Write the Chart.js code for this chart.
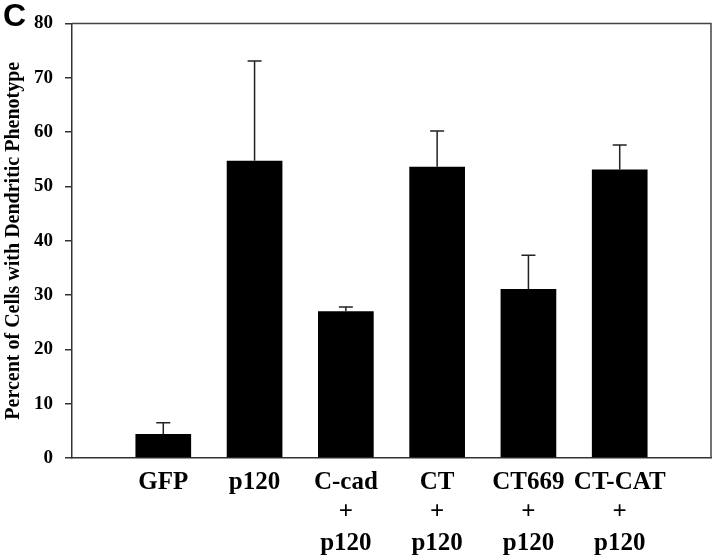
<!DOCTYPE html>
<html>
<head>
<meta charset="utf-8">
<script src="https://cdn.jsdelivr.net/npm/chart.js@4/dist/chart.umd.min.js"></script>
<style>
  html, body { margin: 0; padding: 0; background: #fff; }
  #wrap { position: relative; width: 720px; height: 558px; }
  #panel { position: absolute; left: 3px; top: -3px; font: bold 32px "Liberation Sans", Arial, sans-serif; }
</style>
</head>
<body>
<div id="wrap">
  <canvas id="chart" width="720" height="558"></canvas>
  <div id="panel">C</div>
</div>
<script>
// groups (first and last slot are left empty, like the original axis)
const groups = ['', 'GFP', 'p120', ['C-cad', '+', 'p120'], ['CT', '+', 'p120'], ['CT669', '+', 'p120'], ['CT-CAT', '+', 'p120'], ''];
const means = [4.4, 54.7, 27.0, 53.6, 31.1, 53.1];
const upper = [6.5, 73.1, 27.8, 60.2, 37.3, 57.6];
const yTicks = [0, 10, 20, 30, 40, 50, 60, 70, 80];

const barData = [null, ...means, null];
const errData = [null, ...upper, null];

const serif = '"Liberation Serif", "Times New Roman", serif';

// error bars (upper whisker only) and the frame on top / right
const extras = {
  id: 'extras',
  afterDatasetsDraw(chart) {
    const ctx = chart.ctx;
    const x = chart.scales.x, y = chart.scales.y;
    ctx.save();
    ctx.strokeStyle = '#222';
    ctx.lineWidth = 1.5;
    errData.forEach((v, i) => {
      if (v == null) return;
      const px = x.getPixelForValue(i);
      const top = y.getPixelForValue(v);
      const base = y.getPixelForValue(barData[i]);
      ctx.beginPath();
      ctx.moveTo(px, base);
      ctx.lineTo(px, top);
      ctx.moveTo(px - 7, top);
      ctx.lineTo(px + 7, top);
      ctx.stroke();
    });
    const a = chart.chartArea;
    ctx.strokeStyle = '#444';
    ctx.beginPath();
    ctx.moveTo(a.left, a.top);
    ctx.lineTo(a.right, a.top);
    ctx.lineTo(a.right, a.bottom);
    ctx.stroke();
    ctx.restore();
  }
};

new Chart(document.getElementById('chart').getContext('2d'), {
  type: 'bar',
  data: {
    labels: groups,
    datasets: [{
      data: barData,
      backgroundColor: '#000',
      borderWidth: 0,
      barPercentage: 0.61,
      categoryPercentage: 1
    }]
  },
  options: {
    responsive: false,
    animation: false,
    layout: { padding: { left: 0, top: 23, right: 3, bottom: 0 } },
    plugins: { legend: { display: false }, tooltip: { enabled: false } },
    scales: {
      x: {
        offset: false,
        grid: { display: false, offset: false, drawTicks: false },
        border: { display: true, color: '#333', width: 1.5 },
        ticks: {
          autoSkip: false,
          maxRotation: 0,
          padding: 9,
          color: '#000',
          font: { family: serif, size: 25, weight: 'bold', lineHeight: 1.22 }
        },
        afterFit(scale) { scale.height = 100; }
      },
      y: {
        min: 0,
        max: 80,
        afterBuildTicks(scale) { scale.ticks = yTicks.map(v => ({ value: v })); },
        grid: { drawOnChartArea: false, tickLength: 7, color: '#333', lineWidth: 1.5 },
        border: { display: true, color: '#333', width: 1.5 },
        ticks: {
          padding: 12,
          color: '#000',
          font: { family: serif, size: 19, weight: 'bold' }
        },
        title: {
          display: true,
          text: 'Percent of Cells with Dendritic Phenotype',
          color: '#000',
          padding: { top: 2, bottom: 0 },
          font: { family: serif, size: 20, weight: 'bold' }
        },
        afterFit(scale) { scale.width = 72; }
      }
    }
  },
  plugins: [extras]
});
</script>
</body>
</html>
